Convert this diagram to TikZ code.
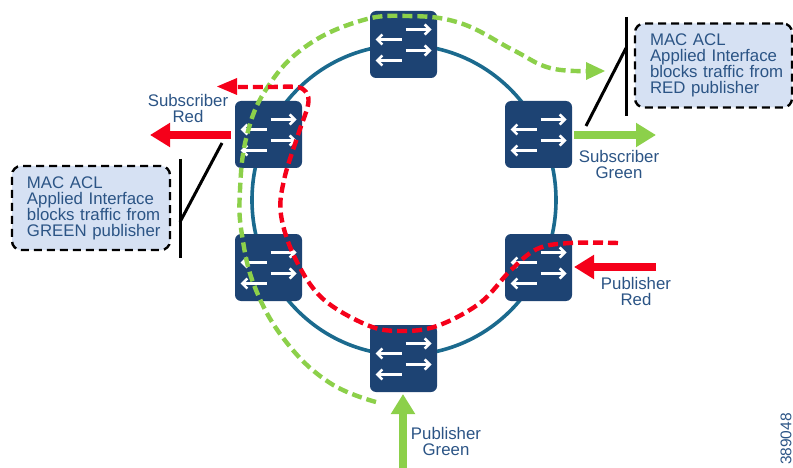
\documentclass[tikz,border=0pt]{standalone}
\usepackage{fontspec}
\setmainfont{Liberation Sans}
\usetikzlibrary{arrows.meta}
\definecolor{navy}{HTML}{1D4373}
\definecolor{ringc}{HTML}{1B6A8E}
\definecolor{txtc}{HTML}{2B5485}
\definecolor{grn}{HTML}{8CD04A}
\definecolor{redc}{HTML}{F5001A}
\definecolor{boxc}{HTML}{D6E1F3}
\tikzset{
  swbox/.style={draw=none,fill=navy,rounded corners=6pt,minimum width=67pt,minimum height=67pt,inner sep=0pt},
  swarrow/.style={white,line width=2.5pt,-{Straight Barb[length=5pt,width=10pt]}},
  lbl/.style={text=txtc,align=center,inner sep=0pt,font=\fontsize{16.8}{16}\selectfont},
  aclbox/.style={draw=black,fill=boxc,line width=2.4pt,dash pattern=on 8pt off 5pt,rounded corners=9pt,minimum height=84pt,text width=#1,inner xsep=0pt,inner ysep=0pt,align=left,text=txtc,font=\fontsize{16.8}{16}\selectfont},
  bigarrow/.style={line width=7.5pt,draw=#1,-{Triangle[length=20pt,width=23pt,fill=#1]}},
  dashline/.style={line width=4.4pt,draw=#1,dash pattern=on 10pt off 5pt},
  barline/.style={line width=3pt,draw=black},
}
\newcommand{\swarrows}[1]{%
  \draw[swarrow] ([xshift=2pt,yshift=15pt]#1.center) -- ([xshift=28pt,yshift=15pt]#1.center);
  \draw[swarrow] ([xshift=2pt,yshift=-6pt]#1.center) -- ([xshift=28pt,yshift=-6pt]#1.center);
  \draw[swarrow] ([xshift=-2pt,yshift=5pt]#1.center) -- ([xshift=-28pt,yshift=5pt]#1.center);
  \draw[swarrow] ([xshift=-2pt,yshift=-16pt]#1.center) -- ([xshift=-28pt,yshift=-16pt]#1.center);
}
\newcommand{\ind}{\hspace*{15pt}}
\begin{document}
\begin{tikzpicture}[x=1pt,y=-1pt]
\useasboundingbox (0,0) rectangle (793,468);
% ring
\coordinate (ringc) at (404,200);
\draw[ringc,line width=3.6pt] (ringc) ellipse [x radius=152, y radius=155];
% switches
\node[swbox] (top) at (403.5,44.5) {};
\node[swbox] (ul) at (268.5,134.5) {};
\node[swbox] (ll) at (268.5,267.5) {};
\node[swbox] (ur) at (538.5,134.5) {};
\node[swbox] (lr) at (538.5,267.5) {};
\node[swbox] (bot) at (403.5,358.5) {};
\swarrows{top}\swarrows{ul}\swarrows{ll}\swarrows{ur}\swarrows{lr}\swarrows{bot}
% ACL boxes
\node[aclbox=158pt] (aclL) at (91,208) {\ind MAC ACL\\\ind Applied Interface\\\ind blocks traffic from\\\ind GREEN publisher};
\node[aclbox=157pt] (aclR) at (713.5,65.5) {\ind MAC ACL\\\ind Applied Interface\\\ind blocks traffic from\\\ind RED publisher};
% bars
\coordinate (barLa) at (180,159); \coordinate (barLb) at (180,258);
\coordinate (barLm) at (180,222); \coordinate (diagL) at (222,143);
\coordinate (barRa) at (626,17); \coordinate (barRb) at (626,116);
\coordinate (barRm) at (626,48); \coordinate (diagR) at (586,126);
\draw[barline] (barLa) -- (barLb);
\draw[barline] (barLm) -- (diagL);
\draw[barline] (barRa) -- (barRb);
\draw[barline] (barRm) -- (diagR);
% thick arrows
\coordinate (a1) at (231,135); \coordinate (a1e) at (150,135);
\coordinate (a2) at (574,135); \coordinate (a2e) at (656,135);
\coordinate (a3) at (656,267); \coordinate (a3e) at (574,267);
\coordinate (a4) at (403,468); \coordinate (a4e) at (403,394);
\draw[bigarrow=redc] (a1) -- (a1e);
\draw[bigarrow=grn] (a2) -- (a2e);
\draw[bigarrow=redc] (a3) -- (a3e);
\draw[bigarrow=grn] (a4) -- (a4e);
% green dashed path
\coordinate (gs) at (376,402);
\coordinate (ge) at (590,71);
\draw[dashline=grn] plot[smooth,tension=0.7] coordinates {(gs) (330,383) (287,343) (256,290) (242,235) (240,190) (247,135) (267,88) (305,47) (360,21) (407,16) (460,23) (513,50) (550,68) (ge)};
\coordinate (gh) at (605,71);
\fill[grn] (gh) -- (586,62) -- (586,80) -- cycle;
% red dashed path
\coordinate (rs) at (618,243);
\coordinate (re) at (236,87);
\draw[dashline=redc] plot[smooth,tension=0.6] coordinates {(rs) (570,243) (537,249) (510,271) (480,303) (437,326) (400,331) (367,325) (322,298) (295,258) (281,215) (284,180) (298,135) (308,105) (306,92) (296,87) (270,87) (re)};
\coordinate (rh) at (217,86.5);
\fill[redc] (rh) -- (237,78) -- (237,95) -- cycle;
% labels
\node[lbl] (t1) at (188,108) {Subscriber\\Red};
\node[lbl] (t2) at (619,164) {Subscriber\\Green};
\node[lbl] (t3) at (636,291.5) {Publisher\\Red};
\node[lbl] (t4) at (446,441) {Publisher\\Green};
\node[lbl,rotate=90,font=\fontsize{15.5}{16}\selectfont] (t5) at (786,439) {389048};
\end{tikzpicture}
\end{document}
